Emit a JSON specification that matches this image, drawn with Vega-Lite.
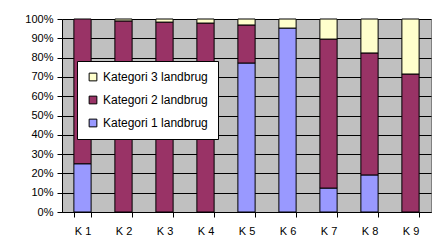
{
  "$schema": "https://vega.github.io/schema/vega-lite/v6.json",
  "width": 369,
  "height": 193,
  "autosize": {"type": "none"},
  "padding": {"left": 62, "top": 19, "right": 14, "bottom": 38},
  "background": "white",
  "data": {
    "values": [
      {"k": "K 1", "kat": "Kategori 1 landbrug", "v": 25},
      {"k": "K 1", "kat": "Kategori 2 landbrug", "v": 75},
      {"k": "K 2", "kat": "Kategori 2 landbrug", "v": 99},
      {"k": "K 2", "kat": "Kategori 3 landbrug", "v": 1},
      {"k": "K 3", "kat": "Kategori 2 landbrug", "v": 98.4},
      {"k": "K 3", "kat": "Kategori 3 landbrug", "v": 1.6},
      {"k": "K 4", "kat": "Kategori 2 landbrug", "v": 97.9},
      {"k": "K 4", "kat": "Kategori 3 landbrug", "v": 2.1},
      {"k": "K 5", "kat": "Kategori 1 landbrug", "v": 77.2},
      {"k": "K 5", "kat": "Kategori 2 landbrug", "v": 19.7},
      {"k": "K 5", "kat": "Kategori 3 landbrug", "v": 3.1},
      {"k": "K 6", "kat": "Kategori 1 landbrug", "v": 95.3},
      {"k": "K 6", "kat": "Kategori 3 landbrug", "v": 4.7},
      {"k": "K 7", "kat": "Kategori 1 landbrug", "v": 12.4},
      {"k": "K 7", "kat": "Kategori 2 landbrug", "v": 77.2},
      {"k": "K 7", "kat": "Kategori 3 landbrug", "v": 10.4},
      {"k": "K 8", "kat": "Kategori 1 landbrug", "v": 19.2},
      {"k": "K 8", "kat": "Kategori 2 landbrug", "v": 63.2},
      {"k": "K 8", "kat": "Kategori 3 landbrug", "v": 17.6},
      {"k": "K 9", "kat": "Kategori 2 landbrug", "v": 71.5},
      {"k": "K 9", "kat": "Kategori 3 landbrug", "v": 28.5}
    ]
  },
  "mark": {"type": "bar", "stroke": "black", "strokeWidth": 1},
  "encoding": {
    "x": {
      "field": "k", "type": "nominal", "title": null,
      "scale": {"paddingInner": 0.58, "paddingOuter": 0.29},
      "axis": {"labelAngle": 0, "tickBand": "extent", "tickSize": 5, "labelPadding": 8, "domainColor": "black", "tickColor": "black", "grid": false}
    },
    "y": {
      "field": "v", "type": "quantitative", "stack": "normalize", "title": null,
      "scale": {"domain": [0, 1]},
      "axis": {"format": "%", "values": [0,0.1,0.2,0.3,0.4,0.5,0.6,0.7,0.8,0.9,1], "labelOverlap": false, "labelFlush": false, "tickSize": 5, "labelPadding": 4, "domainColor": "black", "tickColor": "black", "gridColor": "black", "gridOpacity": 1}
    },
    "color": {
      "field": "kat", "type": "nominal",
      "scale": {
        "domain": ["Kategori 3 landbrug", "Kategori 2 landbrug", "Kategori 1 landbrug"],
        "range": ["#FFFFCC", "#993366", "#9999FF"]
      },
      "legend": {
        "title": null, "orient": "none", "legendX": 15, "legendY": 42,
        "fillColor": "white", "strokeColor": "black", "padding": 10,
        "symbolType": "square", "symbolSize": 60, "symbolStrokeColor": "black", "symbolStrokeWidth": 1,
        "rowPadding": 11, "labelFontSize": 12, "labelOffset": 4, "labelFont": "Liberation Sans", "labelColor": "black"
      }
    },
    "order": {"field": "kat", "sort": "ascending"}
  },
  "config": {
    "view": {"fill": "#C0C0C0", "stroke": "#808080", "strokeWidth": 1},
    "axis": {"labelFont": "Liberation Sans", "labelFontSize": 11, "labelColor": "black", "domainWidth": 1, "tickWidth": 1, "gridWidth": 1}
  }
}
